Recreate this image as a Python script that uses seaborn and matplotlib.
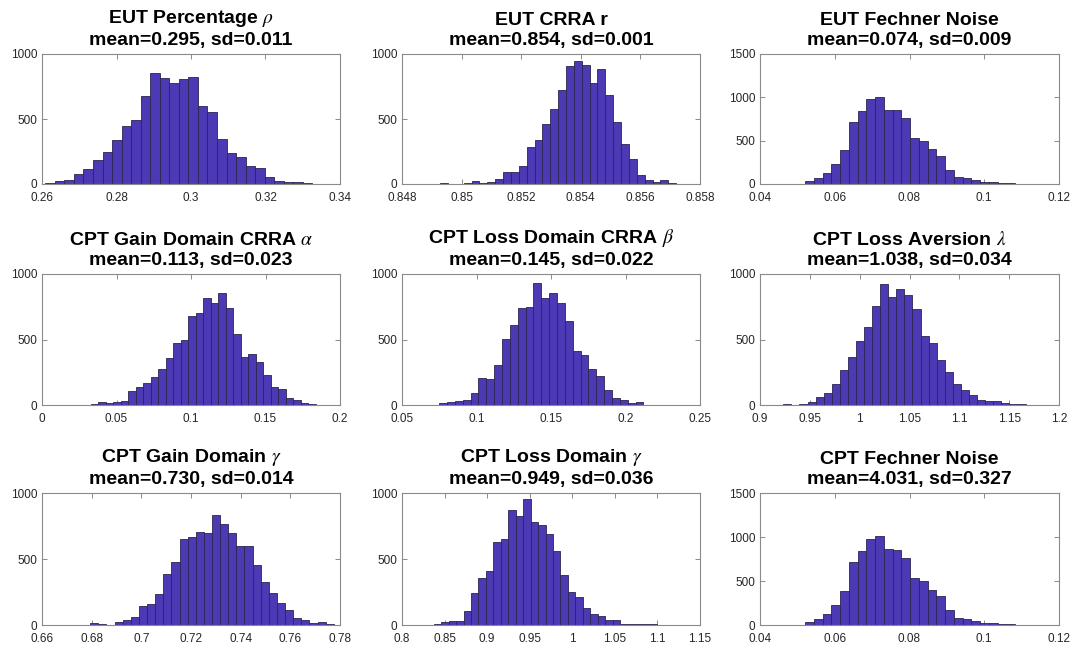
import numpy as np
import pandas as pd
import matplotlib
matplotlib.use("Agg")
import matplotlib.pyplot as plt
import seaborn as sns

sns.set_style("white")
plt.rcParams["font.family"] = ["Liberation Sans", "DejaVu Sans"]
plt.rcParams["mathtext.fontset"] = "stix"

# ---- data: histogram counts per panel (30 bins each) ----
titles = [
    "EUT Percentage $\\rho$", "EUT CRRA r", "EUT Fechner Noise",
    "CPT Gain Domain CRRA $\\alpha$", "CPT Loss Domain CRRA $\\beta$", "CPT Loss Aversion $\\lambda$",
    "CPT Gain Domain $\\gamma$", "CPT Loss Domain $\\gamma$", "CPT Fechner Noise",
]
means = ["0.295", "0.854", "0.074", "0.113", "0.145", "1.038", "0.730", "0.949", "4.031"]
sds = ["0.011", "0.001", "0.009", "0.023", "0.022", "0.034", "0.014", "0.036", "0.327"]

bin_start = [0.2609, 0.84928, 0.0474, 0.0328, 0.0697, 0.9234, 0.6794, 0.8372, 0.0474]
bin_width = [0.00256, 0.000264, 0.00234, 0.00503, 0.00527, 0.0081, 0.00327, 0.00876, 0.00234]

counts_eut_rho = [10, 20, 33, 75, 118, 187, 245, 335, 450, 490, 680, 853, 818, 780, 808,
                  825, 600, 553, 346, 238, 208, 141, 123, 56, 26, 18, 18, 5, 3, 3]
counts_eut_r = [5, 2, 3, 5, 23, 8, 13, 40, 90, 90, 135, 285, 340, 465, 577,
                725, 905, 948, 918, 777, 885, 682, 475, 308, 192, 67, 33, 13, 28, 8]
counts_eut_noise = [4, 4, 35, 65, 130, 230, 392, 720, 846, 977, 1008, 858, 850, 765, 530,
                    500, 400, 327, 165, 85, 65, 42, 27, 23, 12, 12, 5, 3, 2, 4]
counts_cpt_alpha = [5, 25, 18, 20, 30, 110, 138, 170, 210, 272, 355, 475, 495, 677, 703,
                    815, 777, 853, 743, 541, 367, 387, 328, 231, 138, 123, 54, 36, 13, 5]
counts_cpt_beta = [3, 18, 25, 30, 40, 90, 203, 197, 305, 505, 613, 738, 746, 930, 813,
                   856, 779, 641, 415, 385, 274, 223, 113, 56, 36, 18, 20, 3, 2, 3]
counts_cpt_lambda = [5, 2, 10, 25, 58, 95, 160, 265, 367, 485, 597, 757, 920, 826, 887,
                     836, 731, 526, 472, 346, 254, 159, 118, 77, 41, 31, 31, 15, 8, 8]
counts_cpt_gain_gamma = [13, 8, 2, 20, 38, 58, 145, 160, 232, 384, 476, 649, 667, 707, 697,
                         837, 768, 697, 598, 600, 453, 323, 239, 163, 117, 56, 36, 15, 23, 10]
counts_cpt_loss_gamma = [5, 20, 28, 33, 107, 244, 356, 410, 631, 651, 868, 824, 957, 781, 758,
                         687, 557, 382, 252, 209, 132, 87, 66, 38, 38, 10, 10, 8, 8, 5]
counts_cpt_noise = [4, 4, 35, 65, 130, 230, 392, 720, 846, 977, 1008, 858, 850, 765, 530,
                    500, 400, 327, 165, 85, 65, 42, 27, 23, 12, 12, 5, 3, 2, 4]

all_counts = [counts_eut_rho, counts_eut_r, counts_eut_noise,
              counts_cpt_alpha, counts_cpt_beta, counts_cpt_lambda,
              counts_cpt_gain_gamma, counts_cpt_loss_gamma, counts_cpt_noise]

xticks = [
    [0.26, 0.28, 0.30, 0.32, 0.34],
    [0.848, 0.850, 0.852, 0.854, 0.856, 0.858],
    [0.04, 0.06, 0.08, 0.10, 0.12],
    [0.0, 0.05, 0.10, 0.15, 0.20],
    [0.05, 0.10, 0.15, 0.20, 0.25],
    [0.90, 0.95, 1.00, 1.05, 1.10, 1.15, 1.20],
    [0.66, 0.68, 0.70, 0.72, 0.74, 0.76, 0.78],
    [0.80, 0.85, 0.90, 0.95, 1.00, 1.05, 1.10, 1.15],
    [0.04, 0.06, 0.08, 0.10, 0.12],
]
xticklabels = [
    ["0.26", "0.28", "0.3", "0.32", "0.34"],
    ["0.848", "0.85", "0.852", "0.854", "0.856", "0.858"],
    ["0.04", "0.06", "0.08", "0.1", "0.12"],
    ["0", "0.05", "0.1", "0.15", "0.2"],
    ["0.05", "0.1", "0.15", "0.2", "0.25"],
    ["0.9", "0.95", "1", "1.05", "1.1", "1.15", "1.2"],
    ["0.66", "0.68", "0.7", "0.72", "0.74", "0.76", "0.78"],
    ["0.8", "0.85", "0.9", "0.95", "1", "1.05", "1.1", "1.15"],
    ["0.04", "0.06", "0.08", "0.1", "0.12"],
]
ymax = [1000, 1000, 1500, 1000, 1000, 1000, 1000, 1000, 1500]

# ---- layout ----
W, H = 1075, 647
col_px = [(42, 298), (402, 298), (760, 299)]
row_px = [(54, 130), (274, 131), (493, 132)]

fig = plt.figure(figsize=(W / 100, H / 100), dpi=100)
face = "#4B3AB4"
edge = "#2B2550"
spine_c = "#8a8a8a"
text_c = "#262626"

for i in range(9):
    r, c = divmod(i, 3)
    x0, w = col_px[c]
    y0, h = row_px[r]
    ax = fig.add_axes([x0 / W, 1 - (y0 + h) / H, w / W, h / H])
    counts = np.array(all_counts[i], dtype=float)
    n = len(counts)
    edges = bin_start[i] + bin_width[i] * np.arange(n + 1)
    centers = 0.5 * (edges[:-1] + edges[1:])
    df = pd.DataFrame({"value": centers, "count": counts})
    sns.histplot(data=df, x="value", weights="count", bins=edges.tolist(), ax=ax,
                 color=face, edgecolor=edge, linewidth=0.6, alpha=1.0)
    ax.set_xlim(xticks[i][0], xticks[i][-1])
    ax.set_ylim(0, ymax[i])
    ax.set_xticks(xticks[i])
    ax.set_xticklabels(xticklabels[i])
    yt = list(range(0, ymax[i] + 1, 500))
    ax.set_yticks(yt)
    ax.set_yticklabels([str(v) for v in yt])
    ax.set_xlabel("")
    ax.set_ylabel("")
    for s in ax.spines.values():
        s.set_visible(True)
        s.set_color(spine_c)
        s.set_linewidth(0.8)
    ax.tick_params(direction="in", length=3.5, width=0.7, color=spine_c,
                   labelsize=8.5, labelcolor=text_c, top=True, right=True,
                   bottom=True, left=True)
    ax.tick_params(axis="x", pad=6)
    ax.tick_params(axis="y", pad=3.5)
    ax.set_title(f"{titles[i]}\nmean={means[i]}, sd={sds[i]}",
                 fontsize=14, fontweight="bold", color="black", pad=6.5,
                 linespacing=1.25)

fig.savefig("out.png", dpi=100)
